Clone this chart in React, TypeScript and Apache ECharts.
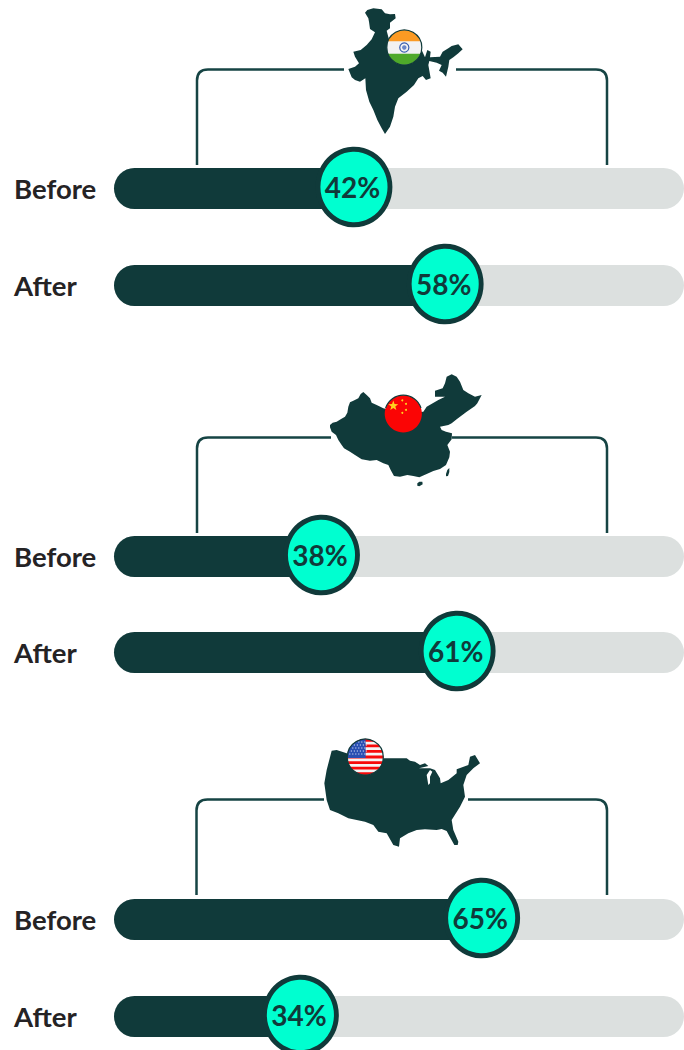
import React, { useEffect, useRef } from "react";
import * as echarts from "echarts";

const categories = ["Before", "After"];
const indiaShown = [42, 58];
const chinaShown = [38, 61];
const usaShown = [65, 34];
// Where each marker really sits on the track in the picture (percent of track)
const indiaFill = [42.1, 58.1];
const chinaFill = [36.4, 60.2];
const usaFill = [64.5, 32.7];

const DARK = "#103a3a";
const TRACK = "#dce0df";
const MINT = "#00ffd0";

type P = [number, number];

const indiaOutline: P[] = [[75,38],[82,30],[100,25],[125,28],[135,40],[150,43],[165,42],[167,55],[150,68],[150,85],[140,92],[150,130],[245,150],[255,172],[262,150],[272,155],[270,172],[300,170],[308,155],[325,145],[335,138],[355,133],[368,148],[355,160],[340,172],[328,180],[325,200],[318,230],[308,218],[297,212],[305,195],[290,188],[268,183],[265,195],[272,235],[258,240],[248,228],[235,235],[222,255],[200,275],[175,295],[165,320],[160,350],[150,380],[135,402],[125,385],[112,360],[100,330],[88,305],[78,270],[76,235],[60,245],[45,240],[35,232],[25,207],[45,200],[57,190],[45,170],[40,155],[62,150],[80,135],[95,118],[105,97],[90,87],[87,65],[85,55]];
const chinaOutline: P[] = [[30,165],[38,158],[50,155],[62,148],[75,140],[82,128],[85,110],[90,97],[100,92],[115,85],[122,72],[130,66],[140,75],[150,85],[155,98],[170,105],[190,115],[250,130],[310,125],[320,110],[355,90],[375,80],[345,80],[345,62],[368,55],[375,40],[380,20],[395,13],[410,20],[420,35],[430,60],[445,70],[465,80],[485,75],[472,100],[465,108],[440,125],[420,140],[410,148],[395,160],[385,165],[360,170],[365,180],[378,185],[396,190],[395,208],[382,225],[390,245],[388,262],[378,285],[360,297],[340,303],[320,312],[298,322],[280,318],[262,315],[240,320],[222,318],[212,300],[205,285],[190,280],[170,270],[150,272],[125,268],[105,255],[90,245],[72,235],[65,225],[55,210],[48,195],[35,185],[30,172]];
const hainan: P[] = [[292,340],[298,335],[307,335],[308,343],[298,349],[292,347]];
const taiwan: P[] = [[378,312],[382,300],[388,294],[388,306],[384,318],[378,319]];
const usaOutline: P[] = [[50,62],[65,60],[95,70],[150,85],[200,85],[275,85],[285,92],[300,95],[315,105],[330,100],[340,108],[312,115],[345,115],[360,120],[375,145],[377,160],[400,150],[425,130],[425,118],[460,105],[465,80],[480,75],[495,100],[475,115],[455,135],[445,165],[450,200],[435,230],[410,270],[415,300],[430,335],[428,345],[418,345],[405,322],[395,303],[380,297],[365,300],[330,298],[305,300],[280,310],[255,325],[252,350],[235,345],[215,310],[190,305],[175,285],[150,275],[100,265],[70,250],[45,240],[35,210],[28,160],[35,120]];
const michigan: P[] = [[345,120],[335,135],[340,165],[345,160],[345,140],[352,125]];

function crop(pts: P[], ox: number, oy: number): P[] {
  return pts.map(([x, y]) => [ox + x / 3, oy + y / 3] as P);
}

// horizontal band of a rectangle clipped to a circle
function clipped(cx: number, cy: number, r: number, x0: number, x1: number, y0: number, y1: number): P[] {
  const left: P[] = [];
  const right: P[] = [];
  const n = 14;
  const top = Math.max(y0, cy - r);
  const bottom = Math.min(y1, cy + r);
  for (let i = 0; i <= n; i++) {
    const y = top + ((bottom - top) * i) / n;
    const h = Math.sqrt(Math.max(0, r * r - (y - cy) * (y - cy)));
    right.push([Math.min(cx + x1, cx + h), y]);
    left.unshift([Math.max(cx + x0, cx - h), y]);
  }
  return [...right, ...left];
}

function band(cx: number, cy: number, r: number, x0: number, x1: number, y0: number, y1: number, fill: string) {
  return { type: "polygon", silent: true, shape: { points: clipped(cx, cy, r, x0, x1, y0, y1) }, style: { fill } };
}

function flagRing(cx: number, cy: number, r: number) {
  return { type: "circle", silent: true, shape: { cx, cy, r }, style: { fill: "none", stroke: DARK, lineWidth: 1.2 } };
}

function indiaFlag(cx: number, cy: number, r: number) {
  return [
    { type: "circle", silent: true, shape: { cx, cy, r }, style: { fill: "#f2f2f2" } },
    band(cx, cy, r, -r, r, cy - r, cy - r / 3 - 0.5, "#fb9a23"),
    band(cx, cy, r, -r, r, cy + r / 3 + 0.5, cy + r, "#4fa92a"),
    { type: "circle", silent: true, shape: { cx, cy, r: 4.6 }, style: { fill: "none", stroke: "#3a5fb0", lineWidth: 1.2 } },
    { type: "circle", silent: true, shape: { cx, cy, r: 2.2 }, style: { fill: "#6a86c8" } },
    flagRing(cx, cy, r),
  ];
}

function chinaFlag(cx: number, cy: number, r: number) {
  const dots: P[] = [[-1, -13.5], [2.7, -10], [2.7, -4], [-1, -1]];
  const sx = cx - 10, sy = cy - 8;
  const star: P[] = [];
  for (let i = 0; i < 10; i++) {
    const rr = i % 2 === 0 ? 5.2 : 2.1;
    const a = -Math.PI / 2 + (i * Math.PI) / 5;
    star.push([sx + rr * Math.cos(a), sy + rr * Math.sin(a)]);
  }
  return [
    { type: "circle", silent: true, shape: { cx, cy, r }, style: { fill: "#fb0505" } },
    { type: "polygon", silent: true, shape: { points: star }, style: { fill: "#ffd21e" } },
    ...dots.map(([dx, dy]) => ({ type: "circle", silent: true, shape: { cx: cx + dx, cy: cy + dy, r: 1 }, style: { fill: "#ffd21e" } })),
    { type: "arc", silent: true, shape: { cx, cy, r, startAngle: Math.PI * 1.1, endAngle: Math.PI * 1.9 }, style: { fill: "none", stroke: DARK, lineWidth: 1.2 } },
  ];
}

function usaFlag(cx: number, cy: number, r: number) {
  const items: any[] = [{ type: "circle", silent: true, shape: { cx, cy, r }, style: { fill: "#f4f4f4" } }];
  const h = (2 * r) / 13;
  for (let i = 0; i < 13; i += 2) {
    items.push(band(cx, cy, r, -r, r, cy - r + i * h, cy - r + (i + 1) * h, "#f70a0a"));
  }
  items.push(band(cx, cy, r, -r, 0.3, cy - r, cy + 1, "#2a4fb2"));
  for (let row = 0; row < 5; row++) {
    for (let col = 0; col < 6; col++) {
      const x = cx - 15.5 + col * 3 + (row % 2) * 1.5;
      const y = cy - 15 + row * 3;
      if ((x - cx) ** 2 + (y - cy) ** 2 < (r - 1) ** 2) {
        items.push({ type: "circle", silent: true, shape: { cx: x, cy: y, r: 0.6 }, style: { fill: "#c9d4f0" } });
      }
    }
  }
  items.push(flagRing(cx, cy, r));
  return items;
}

function poly(points: P[], fill = DARK) {
  return { type: "polygon", silent: true, shape: { points }, style: { fill } };
}

const bracketPath = (y: number, leftEnd: number, rightStart: number, bottom: number, x0 = 197, x1 = 607) =>
  `M${x0} ${bottom} V${y + 11} Q${x0} ${y} ${x0 + 11} ${y} H${leftEnd} M${rightStart} ${y} H${x1 - 11} Q${x1} ${y} ${x1} ${y + 11} V${bottom}`;

const brackets = [
  { name: "b1", d: bracketPath(69.5, 344, 456, 165) },
  { name: "b2", d: bracketPath(437.5, 331, 452, 533) },
  { name: "b3", d: bracketPath(799.5, 324, 468, 895, 196.5) },
];
brackets.forEach((b) => echarts.graphic.registerShape(b.name, echarts.graphic.extendPath(b.d, {})));

const groups = [
  { shown: indiaShown, fill: indiaFill, c1: 188.5, c2: 285.5 },
  { shown: chinaShown, fill: chinaFill, c1: 556.5, c2: 652.5 },
  { shown: usaShown, fill: usaFill, c1: 919.5, c2: 1016.5 },
];

const FONT = "Lato";

export default function App() {
  const ref = useRef<HTMLDivElement>(null);
  useEffect(() => {
    document.body.style.margin = "0";
    document.body.style.overflow = "hidden";
    const chart = echarts.init(ref.current!, undefined, { renderer: "svg" });
    const series: any[] = [];
    groups.forEach((g, i) => {
      series.push({
        type: "bar",
        xAxisIndex: i,
        yAxisIndex: i,
        barWidth: 41,
        clip: false,
        data: g.fill,
        showBackground: true,
        backgroundStyle: { color: TRACK, borderRadius: 20.5 },
        itemStyle: { color: DARK, borderRadius: [20.5, 0, 0, 20.5] },
        silent: true,
        z: 2,
      });
      series.push({
        type: "scatter",
        xAxisIndex: i,
        yAxisIndex: i,
        clip: false,
        symbol: "circle",
        symbolSize: [72, 75.5],
        symbolOffset: [0, -1.5],
        data: g.fill.map((v, k) => [v, categories[k]]),
        itemStyle: { color: MINT, borderColor: DARK, borderWidth: 5, opacity: 1 },
        label: {
          show: true,
          position: "inside",
          offset: [-1.5, 0],
          formatter: (p: any) => `${g.shown[p.dataIndex]}%`,
          color: DARK,
          fontFamily: FONT,
          fontWeight: 700,
          fontSize: 28,
        },
        silent: true,
        z: 5,
      });
    });
    const graphic: any[] = [
      ...brackets.map((b) => ({
        type: b.name,
        silent: true,
        style: { fill: "none", stroke: "#164444", lineWidth: 2.5 },
        z: 1,
      })),
      poly(crop(indiaOutline, 340, 0)),
      ...indiaFlag(404.3, 47.5, 17.5),
      poly(crop(chinaOutline, 320, 370)),
      poly(crop(hainan, 320, 370)),
      poly(crop(taiwan, 320, 370)),
      ...chinaFlag(403.3, 413.8, 18.6),
      poly(crop(usaOutline, 315, 730)),
      poly(crop(michigan, 315, 730), "#ffffff"),
      ...usaFlag(365.3, 757, 18),
    ];
    chart.setOption({
      animation: false,
      graphic,
      grid: groups.map((g) => ({ left: 114, width: 570, top: g.c1, height: g.c2 - g.c1 })),
      xAxis: groups.map((_, i) => ({ type: "value", gridIndex: i, min: 0, max: 100, show: false })),
      yAxis: groups.map((_, i) => ({
        type: "category",
        gridIndex: i,
        inverse: true,
        boundaryGap: false,
        data: categories,
        axisLine: { show: false },
        axisTick: { show: false },
        axisLabel: {
          align: "left",
          margin: 100,
          color: "#252325",
          fontFamily: FONT,
          fontWeight: 700,
          fontSize: 27.5,
          padding: [3, 0, 0, 0],
        },
      })),
      series,
    });
    return () => chart.dispose();
  }, []);
  return <div ref={ref} style={{ position: "absolute", left: 0, top: 0, width: 684, height: 1050 }} />;
}
